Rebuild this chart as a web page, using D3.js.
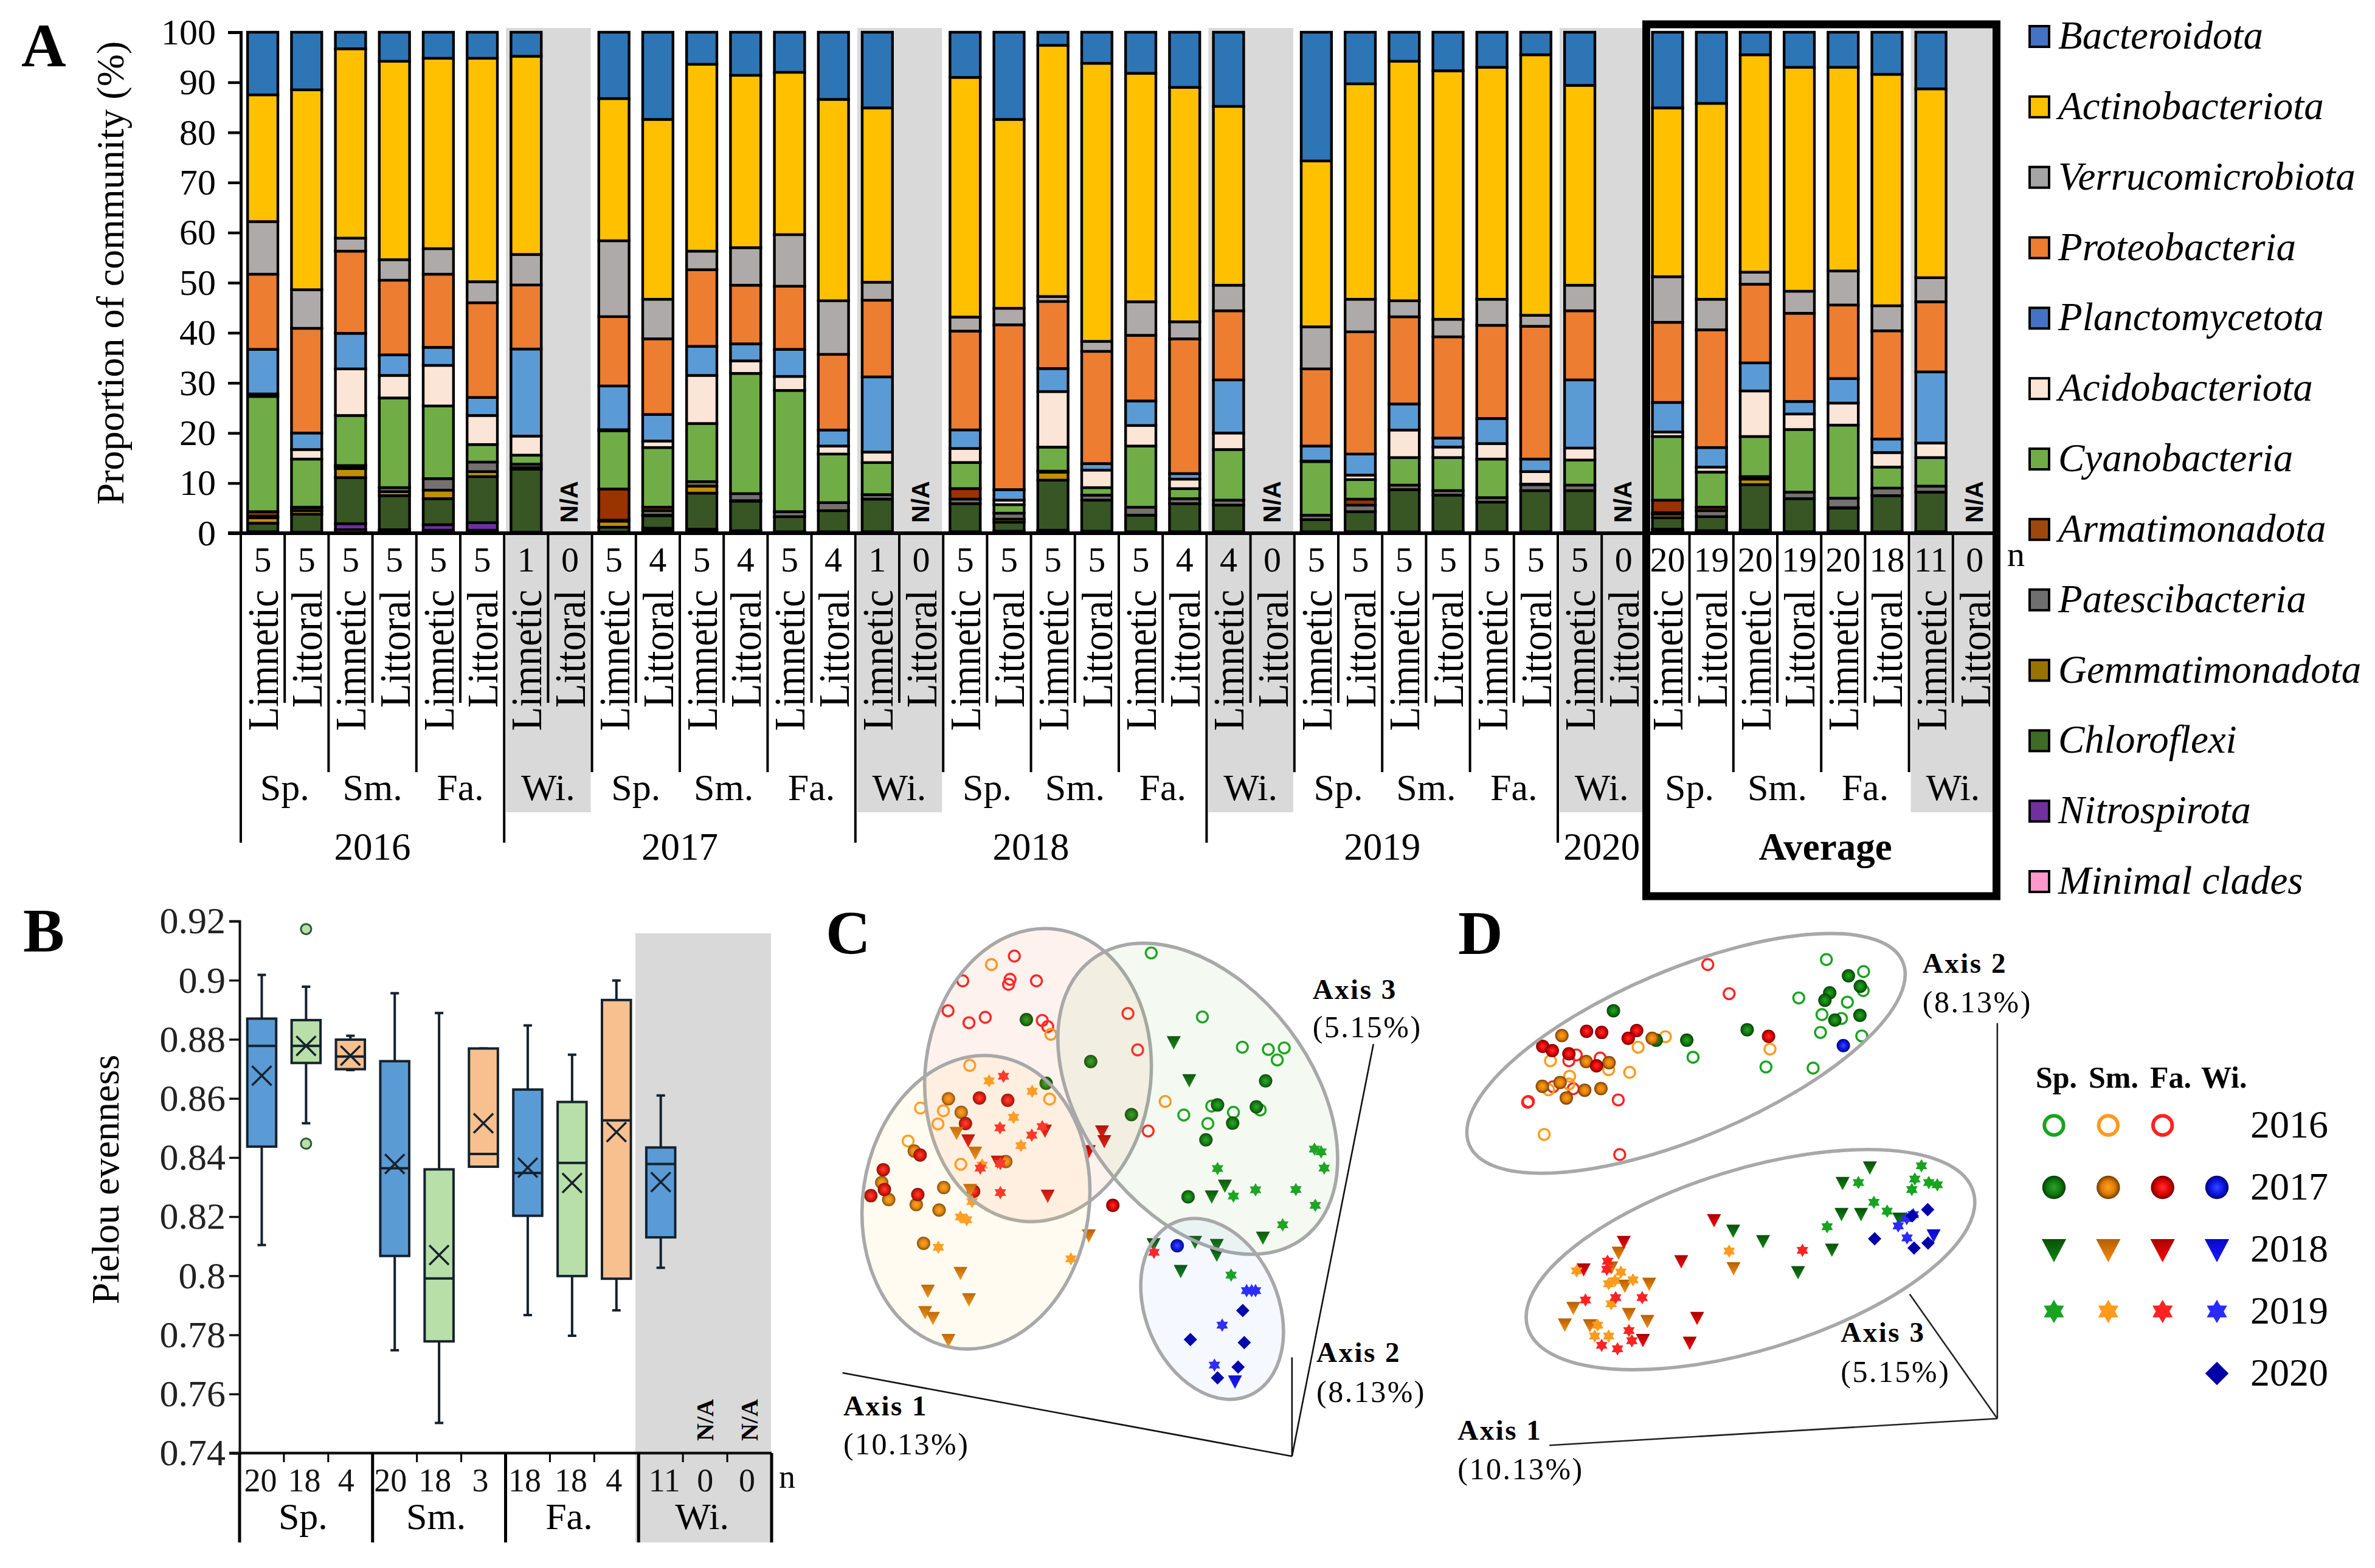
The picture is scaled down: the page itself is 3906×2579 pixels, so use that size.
<!DOCTYPE html>
<html><head><meta charset="utf-8">
<script src="https://d3js.org/d3.v7.min.js"></script>
<style>
html,body{margin:0;padding:0;background:#fff}
svg{display:block}
text{font-family:"Liberation Serif","Times New Roman",serif;fill:#000}
</style></head><body>
<svg id="chart" width="3906" height="2579" viewBox="0 0 3906 2579"></svg>
<script>
const n=null;
// ---------- Panel A ----------
const phyla=["Bacteroidota","Actinobacteriota","Verrucomicrobiota","Proteobacteria","Planctomycetota","Acidobacteriota","Cyanobacteria","Armatimonadota","Patescibacteria","Gemmatimonadota","Chloroflexi","Nitrospirota","Minimal clades"];
const barColors=["#2e75b6","#ffc000","#aeaaaa","#ed7d31","#5b9bd5","#fbe5d6","#70ad47","#993300","#767171","#bf9000","#375623","#7030a0","#ff99cc"];
const legendColors=["#4472c4","#ffc000","#a5a5a5","#ed7d31","#4472c4","#fbe5d6","#70ad47","#9e480e","#6f6f6f","#997300","#3e6b26","#7030a0","#ff99cc"];
const bacteroidota=[12.5,11.5,3.3,5.8,5.2,5.2,4.8,n,13.2,17.4,6.4,8.6,8,13.4,15.1,n,9,17.4,2.6,6.2,8.2,11,14.8,n,25.7,10.3,5.8,7.7,7,4.5,10.6,n,15.1,14.2,4.5,7,7,8.4,11.3,n];
const actinobacteriota=[25.3,39.9,37.8,39.6,38,44.6,39.6,n,28.3,35.9,37.3,34.4,32.4,40.2,34.8,n,47.8,37.7,50.2,55.5,45.6,46.8,35.7,n,33.1,43,47.8,49.6,46.3,52,39.9,n,33.7,39.1,43.4,44.7,40.7,46.2,37.7,n];
const verrucomicrobiota=[10.5,7.7,2.6,4.1,5.1,4.2,6.1,n,15.1,7.9,3.7,7.5,10.3,10.7,3.6,n,2.8,3.3,1,2,6.7,3.4,5.1,n,8.4,6.5,3.2,3.5,5.2,2.2,5.1,n,9.1,6.1,2.4,4.4,6.8,5,4.8,n];
const proteobacteria=[15,20.9,16.4,14.9,14.6,18.9,12.8,n,13.8,15.1,15.3,11.7,12.6,15.1,15.3,n,19.7,32.9,13.4,22.4,13.1,26.9,13.8,n,15.4,24.4,17.4,20.2,18.6,26.5,13.8,n,16,23.5,15.7,17.6,14.7,21.6,14,n];
const planctomycetota=[8.9,3.3,7.1,4.1,3.6,3.6,17.4,n,8.7,5.3,5.8,3.4,5.4,3.2,15,n,3.7,2.1,4.6,1.3,4.9,1.1,10.6,n,3,4.2,5.2,1.8,5,2.5,13.6,n,5.9,3.9,5.6,2.5,4.9,2.7,14.2,n];
const acidobacteriota=[.5,1.9,9.3,4.5,8.1,5.8,3.8,n,.2,1.3,9.6,2.5,2.8,1.6,2.1,n,2.8,.9,11.1,3.5,4.1,1.9,3.3,n,.1,.9,5.5,2.1,3.1,2.5,2.4,n,.9,1,9.1,3.1,4.4,2.9,2.9,n];
const cyanobacteria=[23,9.6,10,17.9,14.5,3.5,1.8,n,11.6,11.9,11.6,24,24.2,9.7,6.4,n,5.2,1.7,4.8,1.5,12.2,2,10.1,n,10.7,3.9,5.5,6.6,7.7,.1,5,n,12.7,7,8,12.5,14.6,4.2,5.7,n];
const armatimonadota=[.9,.1,.1,0,0,0,0,n,6.2,.7,0,0,0,0,0,n,2.1,0,0,0,0,0,0,n,0,1.2,0,0,0,0,0,n,2.5,.7,0,0,0,0,0,n];
const patescibacteria=[.3,.6,.5,.8,2.3,1.9,.7,n,.2,.9,.9,1.4,1,1.6,.9,n,.9,1.2,.2,1,1.6,1,1,n,.9,1.3,.9,.9,.9,1.2,1.1,n,.3,1.2,.5,1.3,1.9,1.5,1.2,n];
const gemmatimonadota=[1.1,.7,1.8,.8,1.7,1,.3,n,1.2,.1,1.4,.1,0,0,0,n,0,.6,1.6,0,0,0,0,n,0,0,0,0,0,0,0,n,.7,0,1.1,0,.1,0,0,n];
const chloroflexi=[1.7,3.6,9.2,6.8,5.2,9.2,12.6,n,1,2.5,7.2,5.9,3,4.2,6.5,n,5.6,1.8,10,6.2,3.3,5.6,5.3,n,2.4,4,8.4,7.3,5.9,8.2,8.2,n,2.3,2.8,9.1,6.6,4.6,7.2,7.9,n];
const nitrospirota=[0,0,1.2,.3,1.1,1.5,.1,n,0,.4,.2,.1,0,0,0,n,0,0,.1,0,0,0,0,n,0,0,0,0,0,0,0,n,.2,.1,.1,0,0,0,0,n];
const minimalClades=[.3,.2,.7,.4,.6,.6,.1,n,.2,.6,.6,.4,.3,.3,.3,n,.3,.4,.5,.4,.3,.3,.3,n,.3,.3,.3,.3,.3,.3,.3,n,.6,.4,.5,.3,.4,.3,.3,n];
const seriesA=[bacteroidota,actinobacteriota,verrucomicrobiota,proteobacteria,planctomycetota,acidobacteriota,cyanobacteria,armatimonadota,patescibacteria,gemmatimonadota,chloroflexi,nitrospirota,minimalClades];
const sampleN=[5,5,5,5,5,5,1,0,5,4,5,4,5,4,1,0,5,5,5,5,5,4,4,0,5,5,5,5,5,5,5,0,20,19,20,19,20,18,11,0];
const habitats=["Limnetic","Littoral"];
const yearSpans=[["2016",0,6],["2017",6,14],["2018",14,22],["2019",22,30],["2020",30,32]];
const seasonSpans=[["Sp.",0,2],["Sm.",2,4],["Fa.",4,6],["Wi.",6,8],["Sp.",8,10],["Sm.",10,12],["Fa.",12,14],["Wi.",14,16],["Sp.",16,18],["Sm.",18,20],["Fa.",20,22],["Wi.",22,24],["Sp.",24,26],["Sm.",26,28],["Fa.",28,30],["Wi.",30,32],["Sp.",32,34],["Sm.",34,36],["Fa.",36,38],["Wi.",38,40]];
const winterSpans=[[6,8],[14,16],[22,24],[30,32],[38,40]];
// ---------- Panel B ----------
const boxNames=["20","18","4","20","18","3","18","18","4","11","0","0"];
const boxNameNudge=[-2,-3,-7,-7,-7,-5,-5,-2,-4,6,0,-4];
const boxKinds=["a","b","c","a","b","c","a","b","c","a","b","c"];
const boxLow =[.8104,.8516,.8696,.7748,.7502,.8369,.7867,.7797,.7883,.8027];
const boxQ1  =[.8437,.872,.8699,.8067,.7778,.8369,.8203,.7999,.799,.813];
const boxMed =[.8778,.8778,.8742,.8364,.7991,.8412,.8348,.8382,.8526,.8378];
const boxMean=[.8677,.8778,.8745,.8378,.807,.8516,.8366,.8314,.8486,.8317];
const boxQ3  =[.887,.8865,.8799,.8726,.836,.8769,.863,.8588,.8933,.8434];
const boxHigh=[.9018,.8978,.8812,.8956,.8889,.8769,.8847,.8748,.8999,.861];
const boxOutliers=[[1,.9173],[1,.8447]];
const seasonsB=["Sp.","Sm.","Fa.","Wi."];
// ---------- Panel C (ordination view, read in chart units) ----------
const cOpenRed=[[546,145],[413,209],[535,205],[531,218],[603,209],[375,286],[429,317],[471,303],[618,311],[632,327],[839,293],[864,387],[891,596]];
const cOpenOrange=[[487,167],[640,347],[431,427],[304,537],[363,544],[637,514],[349,578],[272,622],[408,682],[935,520]];
const cOpenGreen=[[899,137],[1031,302],[1134,380],[1201,386],[1242,382],[1224,413],[983,555],[1055,532],[1111,548],[1045,577],[1180,542]];
const cBallGreen=[[577,309],[743,417],[628,473],[848,554],[1194,467],[1070,529],[1170,534],[1109,576],[1040,619],[994,766]];
const cBallOrange=[[376,513],[409,548],[288,648],[524,675],[204,729],[222,773],[364,742],[293,786],[352,800],[312,886]];
const cBallRed=[[456,511],[529,517],[420,577],[303,658],[208,696],[211,747],[176,763],[297,760],[441,752],[800,788]];
const cBallBlue=[[966,892]];
const cTriGreen=[[957,367],[997,465],[1089,737],[1055,765],[1187,871],[905,888],[1012,882],[1068,890],[1068,915],[975,957]];
const cTriOrange=[[397,601],[445,652],[432,748],[738,865],[407,962],[323,1008],[429,1030],[316,1063],[336,1078],[376,1135]];
const cTriRed=[[427,620],[503,675],[625,595],[772,597],[778,622],[632,763],[738,648]];
const cTriBlue=[[1115,1242]];
const cStarGreen=[[1070,693],[1320,643],[1337,650],[1345,692],[1111,764],[1168,748],[1272,747],[1322,788],[1238,838],[1105,968]];
const cStarOrange=[[481,467],[592,494],[544,561],[563,634],[463,684],[437,778],[407,818],[423,825],[350,896],[692,926]];
const cStarRed=[[518,455],[509,588],[591,607],[618,585],[510,680],[458,692],[510,755],[906,909]];
const cStarBlue=[[1145,1008],[1168,1008],[1158,1008],[1082,1097],[1062,1200]];
const cDiamond=[[1135,1059],[1000,1134],[1139,1142],[1123,1205],[1070,1233]];
const cEllipses=[[607,452,379,291,6.6,"rgba(240,110,70,.09)"],[447,780,380,292,8,"rgba(255,220,110,.10)"],[1019,513,451,296,-37.3,"rgba(110,190,90,.08)"],[1056,1055,243,171,-23.2,"rgba(90,130,255,.06)"]];
const cAxes=[[[1262,1435],[103,1220]],[[1262,1435],[1262,1180]],[[1262,1435],[1472,372]]];
const cLabels=[["Axis 3","(5.15%)",1315,255,355],["Axis 2","(8.13%)",1325,1192,1295],["Axis 1","(10.13%)",105,1330,1430]];
// ---------- Panel D ----------
const dOpenGreen=[[1079,154],[1180,185],[1179,234],[1004,253],[1136,264],[1067,296],[1120,306],[1063,342],[1175,351],[717,406],[915,431],[1043,434]];
const dOpenRed=[[757,167],[815,242],[400,400],[380,415],[465,408],[337,482],[392,487],[270,520],[268,522],[514,516],[518,657]];
const dOpenOrange=[[642,353],[568,380],[926,385],[330,415],[488,438],[545,445],[382,455],[380,475],[325,490],[313,605]];
const dBallGreen=[[501,286],[1139,196],[1171,223],[1088,240],[1075,259],[1170,298],[1102,310],[864,335],[700,362],[617,362]];
const dBallOrange=[[361,350],[606,357],[427,417],[489,420],[356,471],[308,481],[423,491],[467,487],[373,511]];
const dBallRed=[[428,339],[469,342],[564,337],[541,357],[309,378],[335,389],[380,397],[455,428],[922,352]];
const dBallBlue=[[1125,376]];
const dTriGreen=[[1197,690],[1123,730],[1120,810],[1173,810],[1277,822],[826,853],[907,880],[1094,902],[1002,960]];
const dTriOrange=[[515,910],[495,948],[532,995],[598,990],[827,950],[392,1052],[543,1068],[593,1086],[369,1095],[437,1097]];
const dTriRed=[[774,826],[529,882],[420,953],[685,932],[728,1078],[581,1135],[708,1142]];
const dTriBlue=[[1370,865]];
const dStarGreen=[[1337,686],[1319,720],[1166,729],[1357,729],[1380,735],[1311,747],[1208,780],[1244,803],[1081,843]];
const dStarOrange=[[815,906],[401,957],[521,960],[554,980],[488,990],[505,982],[495,1042],[458,1097],[450,1125],[488,1125]];
const dStarRed=[[485,932],[483,953],[1014,904],[425,1032],[507,1026],[579,1026],[543,1111],[551,1137],[469,1149],[512,1158]];
const dStarBlue=[[1315,812],[1297,822],[1274,841],[1298,872]];
const dDiamond=[[1354,799],[1312,815],[1210,874],[1317,898],[1355,885]];
const dEllipses=[[698,396,619,221,-22.9],[873,928,613,238,-17]];
const dAxes=[[[1543,1338],[327,1407]],[[1543,1338],[1543,318]],[[1543,1338],[1305,1017]]];
const dLabels=[["Axis 2","(8.13%)",1340,188,290],["Axis 3","(5.15%)",1118,1140,1243],["Axis 1","(10.13%)",78,1392,1495]];
// ---------- Legend of C/D ----------
const legendSeasons=["Sp.","Sm.","Fa.","Wi."];
const legendYears=["2016","2017","2018","2019","2020"];

const svg=d3.select("#chart");
const defs=svg.append("defs");
const seasonHue={green:"#18a320",orange:"#ff9a1c",red:"#ff2222",blue:"#2a2aff"};
const ballHue={green:["#2fa12f","#0b7a0b","#063f06"],orange:["#ffa21e","#dd7a05","#6e3c02"],red:["#ff3030","#e00000","#700000"],blue:["#3a48ff","#0a14e0","#06066e"]};
const triHue={green:["#0a4f0a","#0f8a12"],orange:["#b65f00","#f58a10"],red:["#a80000","#ff0a0a"],blue:["#0808c8","#1a1aff"]};
Object.keys(ballHue).forEach(k=>{
  const g=defs.append("radialGradient").attr("id","ball-"+k);
  [[0,0],[.6,1],[1,2]].forEach(([o,i])=>g.append("stop").attr("offset",o).attr("stop-color",ballHue[k][i]));
  const t=defs.append("linearGradient").attr("id","tri-"+k).attr("x1",0).attr("x2",0).attr("y1",0).attr("y2",1);
  t.append("stop").attr("offset",0).attr("stop-color",triHue[k][0]);
  t.append("stop").attr("offset",1).attr("stop-color",triHue[k][1]);
});
const starType={draw(c,s){const r=Math.sqrt(s);for(let i=0;i<12;i++){const a=i*Math.PI/6-Math.PI/2,q=i%2?r*.58:r;const x=q*Math.cos(a),y=q*Math.sin(a);i?c.lineTo(x,y):c.moveTo(x,y);}c.closePath();}};
const triType={draw(c,s){const r=Math.sqrt(s);c.moveTo(-r,-.85*r);c.lineTo(r,-.85*r);c.lineTo(0,1.05*r);c.closePath();}};
const diaType={draw(c,s){const r=Math.sqrt(s);c.moveTo(0,-r);c.lineTo(r,0);c.lineTo(0,r);c.lineTo(-r,0);c.closePath();}};
function mark(g,x,y,kind,hue,k){
  if(kind==="open") return g.append("circle").attr("cx",x).attr("cy",y).attr("r",9*k).attr("fill","none").attr("stroke",seasonHue[hue]).attr("stroke-width",3.4*k);
  if(kind==="ball") return g.append("circle").attr("cx",x).attr("cy",y).attr("r",11*k).attr("fill",`url(#ball-${hue})`);
  const type=kind==="tri"?triType:kind==="star"?starType:diaType;
  const r=kind==="tri"?11.5:11;
  const fill=kind==="tri"?`url(#tri-${hue})`:kind==="star"?seasonHue[hue]:"#0000a8";
  return g.append("path").attr("transform",`translate(${x},${y})`).attr("d",d3.symbol().type(type).size((r*k)*(r*k))()).attr("fill",fill);
}
function label(g,txt,x,y,size,opt={}){
  const t=g.append("text").attr("x",x).attr("y",y).attr("font-size",size).text(txt);
  if(opt.bold)t.attr("font-weight","bold");
  if(opt.italic)t.attr("font-style","italic");
  if(opt.anchor)t.attr("text-anchor",opt.anchor);
  if(opt.spacing)t.attr("letter-spacing",opt.spacing);
  if(opt.family)t.style("font-family",opt.family);
  if(opt.fill)t.style("fill",opt.fill);
  return t;
}
function vlabel(g,txt,x,y,size,opt={}){
  const t=g.append("text").attr("transform",`translate(${x},${y}) rotate(-90)`).attr("font-size",size).text(txt);
  if(opt.anchor)t.attr("text-anchor",opt.anchor);
  if(opt.bold)t.attr("font-weight","bold");
  if(opt.family)t.style("font-family",opt.family);
  if(opt.len)t.attr("textLength",opt.len).attr("lengthAdjust","spacingAndGlyphs");
  return t;
}

// ===== Panel A =====
const A=svg.append("g");
const slots=d3.range(40);
const xA=d3.scaleBand().domain(slots).range([396,3284]).paddingInner(.31).paddingOuter(.155);
const edgeA=i=>396+i*(3284-396)/40;
const yA=d3.scaleLinear().domain([0,100]).range([877,53]);
winterSpans.forEach(([a,b])=>A.append("rect").attr("x",edgeA(a)+3).attr("width",edgeA(b)-edgeA(a)-5).attr("y",46).attr("height",1336-46).attr("fill","#d9d9d9"));
const rowsA=slots.map(i=>{const o={};phyla.forEach((p,j)=>o[p]=seriesA[j][i]||0);return o;});
const stacked=d3.stack().keys(phyla.slice().reverse()).offset(d3.stackOffsetExpand)(rowsA);
stacked.forEach(layer=>{
  const idx=phyla.indexOf(layer.key);
  A.append("g").selectAll("rect").data(layer.map((d,i)=>({d,i})).filter(o=>seriesA[idx][o.i]>0)).join("rect")
    .attr("x",o=>xA(o.i)).attr("width",xA.bandwidth())
    .attr("y",o=>yA(o.d[1]*100)).attr("height",o=>yA(o.d[0]*100)-yA(o.d[1]*100))
    .attr("fill",barColors[idx]).attr("stroke","#000").attr("stroke-width",4.4);
});
const axA=A.append("g").attr("transform","translate(396,0)").call(d3.axisLeft(yA).tickValues(d3.range(0,101,10)).tickSize(21).tickPadding(20));
axA.selectAll("text").attr("font-size",60).attr("dy",".32em").style("font-family","Liberation Serif");
axA.selectAll("line").attr("stroke","#000").attr("stroke-width",4.5);
axA.select(".domain").attr("stroke","#000").attr("stroke-width",5);
A.append("line").attr("x1",375).attr("x2",3284).attr("y1",yA(0)).attr("y2",yA(0)).attr("stroke","#000").attr("stroke-width",6);
d3.range(0,41).forEach(i=>{
  if(i===32||i===40) return;
  const isYear=yearSpans.some(s=>s[1]===i);
  const bottom=isYear?1386:(i%2===0?1270:1156);
  A.append("line").attr("x1",edgeA(i)).attr("x2",edgeA(i)).attr("y1",877).attr("y2",bottom).attr("stroke","#000").attr("stroke-width",4);
});
slots.forEach(i=>{
  const cx=edgeA(i)+36;
  label(A,sampleN[i],cx,940,58,{anchor:"middle"});
  vlabel(A,habitats[i%2],cx+25,i%2?1164:1202,72,{len:i%2?194:232});
  if(seriesA[0][i]===null) vlabel(A,"N/A",cx+13,860,40,{bold:true,family:"Liberation Sans"});
});
seasonSpans.forEach(([s,a,b])=>label(A,s,(edgeA(a)+edgeA(b))/2,1316,62,{anchor:"middle"}));
yearSpans.forEach(([y,a,b])=>label(A,y,(edgeA(a)+edgeA(b))/2,1414,63,{anchor:"middle"}));
label(A,"Average",3002,1414,63,{anchor:"middle",bold:true});
label(A,"n",3301,931,58);
A.append("rect").attr("x",2707.5).attr("y",40).attr("width",576).attr("height",1434).attr("fill","none").attr("stroke","#000").attr("stroke-width",13);
vlabel(A,"Proportion of community (%)",203,449,64,{anchor:"middle"});
label(A,"A",35,109,102,{bold:true});
const legY=d3.scalePoint().domain(phyla).range([60,1450]);
phyla.forEach((p,i)=>{
  A.append("rect").attr("x",3338).attr("y",legY(p)-17).attr("width",32).attr("height",34).attr("fill",legendColors[i]).attr("stroke","#000").attr("stroke-width",4);
  label(A,p,3385,legY(p)+20,65,{italic:true});
});

// ===== Panel B =====
const B=svg.append("g");
const yB=d3.scaleLinear().domain([.74,.92]).range([2390,1515]);
const xB=d3.scaleBand().domain(d3.range(12)).range([394,1269]);
const xBox=d3.scaleBand().domain(d3.range(12)).range([394,1269]).padding(.33);
B.append("rect").attr("x",1045).attr("width",223).attr("y",1535).attr("height",2537-1535).attr("fill","#d9d9d9");
const boxFill={a:"#5b9bd5",b:"#b9dfa8",c:"#f8bf8f"};
const dark="#14222e";
boxLow.forEach((lo,i)=>{
  const cx=xB(i)+xB.bandwidth()/2,w=xBox.bandwidth();
  const g=B.append("g");
  g.append("line").attr("x1",cx).attr("x2",cx).attr("y1",yB(boxHigh[i])).attr("y2",yB(lo)).attr("stroke",dark).attr("stroke-width",4);
  [boxHigh[i],lo].forEach(v=>g.append("line").attr("x1",cx-7).attr("x2",cx+7).attr("y1",yB(v)).attr("y2",yB(v)).attr("stroke",dark).attr("stroke-width",4));
  g.append("rect").attr("x",cx-w/2).attr("width",w).attr("y",yB(boxQ3[i])).attr("height",yB(boxQ1[i])-yB(boxQ3[i])).attr("fill",boxFill[boxKinds[i]]).attr("stroke",dark).attr("stroke-width",4);
  g.append("line").attr("x1",cx-w/2).attr("x2",cx+w/2).attr("y1",yB(boxMed[i])).attr("y2",yB(boxMed[i])).attr("stroke",dark).attr("stroke-width",4);
  const my=yB(boxMean[i]),m=16;
  g.append("path").attr("d",`M${cx-m},${my-m}L${cx+m},${my+m}M${cx-m},${my+m}L${cx+m},${my-m}`).attr("stroke",dark).attr("stroke-width",3.5).attr("fill","none");
});
boxOutliers.forEach(([i,v])=>B.append("circle").attr("cx",xB(i)+xB.bandwidth()/2).attr("cy",yB(v)).attr("r",8.5).attr("fill",boxFill.b).attr("stroke","#2b5a35").attr("stroke-width",3));
const axB=B.append("g").attr("transform","translate(394,0)").call(d3.axisLeft(yB).tickValues(d3.range(0,10).map(i=>.74+i*.02)).tickFormat(d=>+d.toFixed(2)).tickSize(17).tickPadding(6));
axB.selectAll("text").attr("font-size",62).attr("dy",".32em").style("font-family","Liberation Serif").style("fill","#222");
axB.selectAll("line").attr("stroke","#111").attr("stroke-width",3.5);
axB.select(".domain").attr("stroke","#111").attr("stroke-width",4);
B.append("line").attr("x1",377).attr("x2",1269).attr("y1",2390).attr("y2",2390).attr("stroke","#111").attr("stroke-width",4.5);
d3.range(0,13).forEach(i=>{
  const x=394+i*xB.bandwidth();
  const major=i%3===0;
  B.append("line").attr("x1",x).attr("x2",x).attr("y1",2390).attr("y2",major?2537:2405).attr("stroke","#000").attr("stroke-width",major?5:3);
});
boxNames.forEach((t,i)=>label(B,t,xB(i)+xB.bandwidth()/2+boxNameNudge[i],2453,54,{anchor:"middle",fill:"#111"}));
label(B,"n",1281,2447,54);
seasonsB.forEach((s,i)=>label(B,s,394+(i*3+1.5)*xB.bandwidth()-5,2515,62,{anchor:"middle"}));
[10,11].forEach(i=>vlabel(B,"N/A",xB(i)+xB.bandwidth()/2+13,2370,40,{bold:true}));
vlabel(B,"Pielou evenness",195,1940,64,{anchor:"middle"});
label(B,"B",38,1565,102,{bold:true});

// ===== Panels C & D =====
function drawPanel(xS,yS,groups){
  const g=svg.append("g");
  groups.forEach(([pts,kind,hue])=>pts.forEach(p=>mark(g,xS(p[0]),yS(p[1]),kind,hue,1)));
  return g;
}
const xC=d3.scaleLinear().domain([0,1568]).range([1320,2320]);
const yC=d3.scaleLinear().domain([0,1568]).range([1480,2480]);
const unitC=xC(1)-xC(0);
const groupsC=[[cOpenRed,"open","red"],[cOpenOrange,"open","orange"],[cOpenGreen,"open","green"],[cBallGreen,"ball","green"],[cBallOrange,"ball","orange"],[cBallRed,"ball","red"],[cBallBlue,"ball","blue"],[cTriGreen,"tri","green"],[cTriOrange,"tri","orange"],[cTriRed,"tri","red"],[cTriBlue,"tri","blue"],[cStarGreen,"star","green"],[cStarOrange,"star","orange"],[cStarRed,"star","red"],[cStarBlue,"star","blue"],[cDiamond,"dia","blue"]];
const C=drawPanel(xC,yC,groupsC);
cEllipses.forEach(e=>C.append("ellipse").attr("transform",`translate(${xC(e[0])},${yC(e[1])}) rotate(${e[4]})`).attr("rx",e[3]*unitC).attr("ry",e[2]*unitC).attr("fill",e[5]).attr("stroke","#a8a8a8").attr("stroke-width",5.6));
cAxes.forEach(l=>C.append("line").attr("x1",xC(l[0][0])).attr("y1",yC(l[0][1])).attr("x2",xC(l[1][0])).attr("y2",yC(l[1][1])).attr("stroke","#111").attr("stroke-width",2.6));
cLabels.forEach(l=>{label(C,l[0],xC(l[2]),yC(l[3]),47,{bold:true,spacing:2.5});label(C,l[1],xC(l[2]),yC(l[4]),50,{spacing:2.5});});
label(C,"C",1358,1569,102,{bold:true});

const xD=d3.scaleLinear().domain([0,1568]).range([2350,3300]);
const yD=d3.scaleLinear().domain([0,1568]).range([1480,2480]);
const unitD=1/1.6;
const groupsD=[[dOpenGreen,"open","green"],[dOpenRed,"open","red"],[dOpenOrange,"open","orange"],[dBallGreen,"ball","green"],[dBallOrange,"ball","orange"],[dBallRed,"ball","red"],[dBallBlue,"ball","blue"],[dTriGreen,"tri","green"],[dTriOrange,"tri","orange"],[dTriRed,"tri","red"],[dTriBlue,"tri","blue"],[dStarGreen,"star","green"],[dStarOrange,"star","orange"],[dStarRed,"star","red"],[dStarBlue,"star","blue"],[dDiamond,"dia","blue"]];
const D=drawPanel(xD,yD,groupsD);
dEllipses.forEach(e=>D.append("ellipse").attr("transform",`translate(${xD(e[0])},${yD(e[1])}) rotate(${e[4]})`).attr("rx",e[2]*unitD).attr("ry",e[3]*unitD).attr("fill","none").attr("stroke","#a8a8a8").attr("stroke-width",5.6));
dAxes.forEach(l=>D.append("line").attr("x1",xD(l[0][0])).attr("y1",yD(l[0][1])).attr("x2",xD(l[1][0])).attr("y2",yD(l[1][1])).attr("stroke","#222").attr("stroke-width",2.6));
dLabels.forEach(l=>{label(D,l[0],xD(l[2]),yD(l[3]),47,{bold:true,spacing:2.5});label(D,l[1],xD(l[2]),yD(l[4]),50,{spacing:2.5});});
label(D,"D",2398,1569,102,{bold:true});

// ===== Season/year legend =====
const L=svg.append("g");
const legCol=d3.scalePoint().domain(legendSeasons).range([3378,3646]);
const legRow=d3.scalePoint().domain(legendYears).range([1851,2259]);
const hues=["green","orange","red","blue"];
const kinds=["open","ball","tri","star","dia"];
const headerX=[3348,3435,3536,3620];
legendSeasons.forEach((s,i)=>label(L,s,headerX[i],1789,50,{bold:true}));
legendYears.forEach((y,r)=>{
  label(L,y,3701,legRow(y)+20,64);
  legendSeasons.forEach((s,c)=>{
    if(r===0&&c===3)return;
    if(r===4&&c!==3)return;
    mark(L,legCol(s),legRow(y),kinds[r],hues[c],1.75);
  });
});
</script></body></html>
